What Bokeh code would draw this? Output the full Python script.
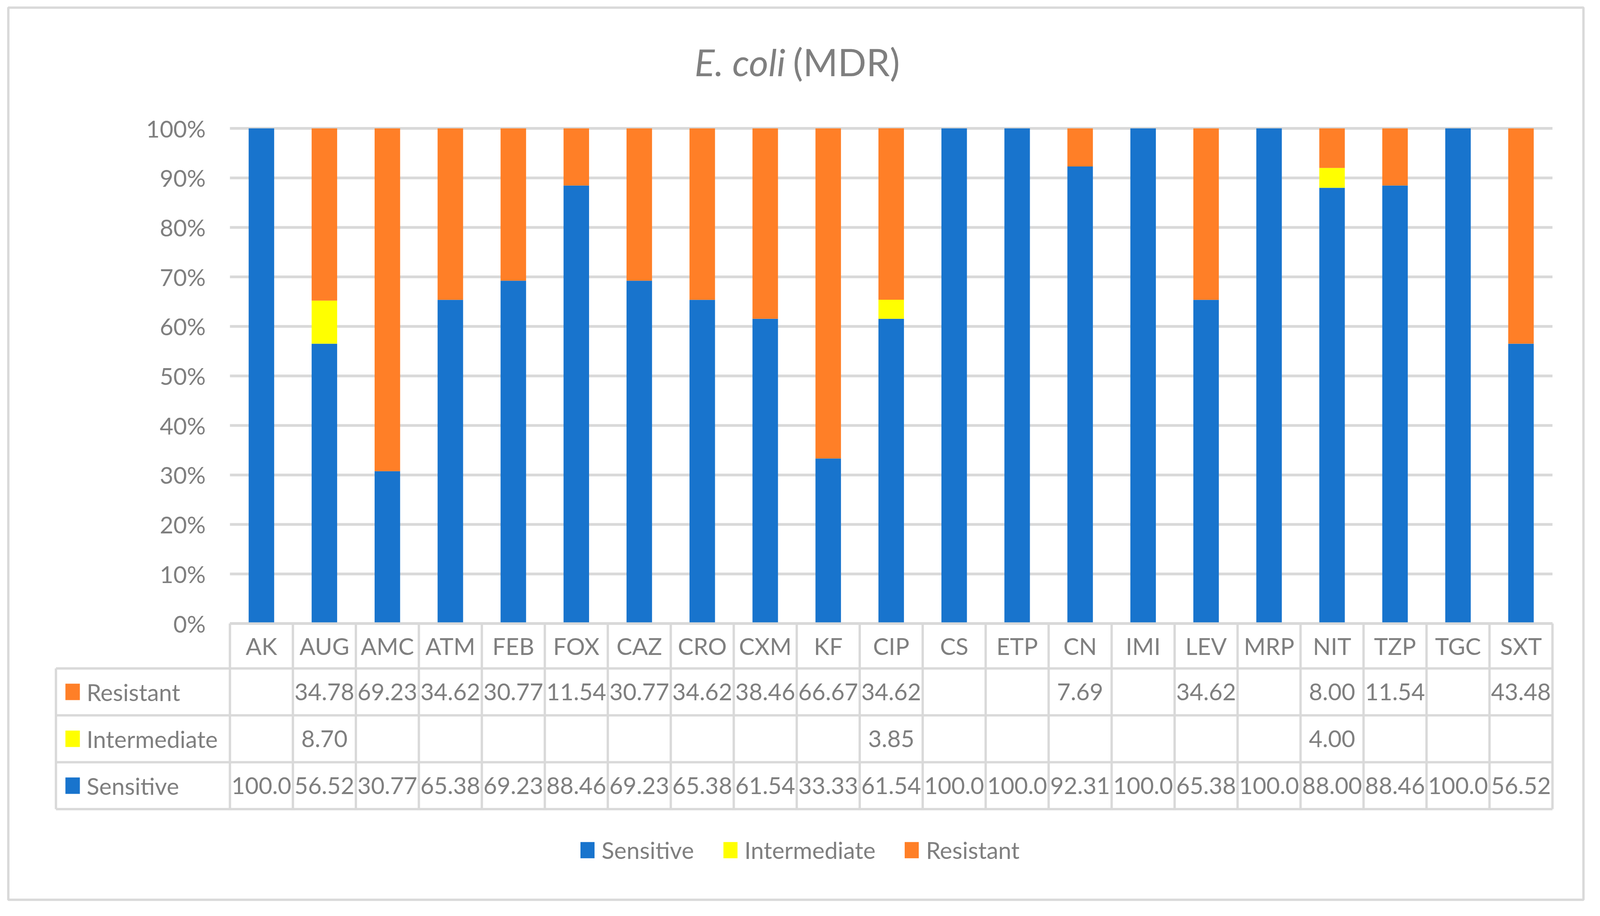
from bokeh.plotting import figure
from bokeh.models import (ColumnDataSource, LinearAxis, FixedTicker, PrintfTickFormatter,
                          Legend, LegendItem, Range1d)
from bokeh.core.properties import value
from bokeh.embed import file_html
from bokeh.resources import INLINE

# ---------------- data ----------------
categories = ["AK", "AUG", "AMC", "ATM", "FEB", "FOX", "CAZ", "CRO", "CXM", "KF", "CIP",
              "CS", "ETP", "CN", "IMI", "LEV", "MRP", "NIT", "TZP", "TGC", "SXT"]
sensitive = [100.0, 56.52, 30.77, 65.38, 69.23, 88.46, 69.23, 65.38, 61.54, 33.33, 61.54,
             100.0, 100.0, 92.31, 100.0, 65.38, 100.0, 88.00, 88.46, 100.0, 56.52]
intermediate = [None, 8.70, None, None, None, None, None, None, None, None, 3.85,
                None, None, None, None, None, None, 4.00, None, None, None]
resistant = [None, 34.78, 69.23, 34.62, 30.77, 11.54, 30.77, 34.62, 38.46, 66.67, 34.62,
             None, None, 7.69, None, 34.62, None, 8.00, 11.54, None, 43.48]
series_names = ["Sensitive", "Intermediate", "Resistant"]
series_colors = ["#1874CD", "#FFFF00", "#FF7F27"]
y_ticks = [0, 10, 20, 30, 40, 50, 60, 70, 80, 90, 100]
title_italic = "E. coli"
title_plain = "(MDR)"

# ---------------- layout ----------------
# geometry is measured in reference pixels; horizontal positions are compressed by KX
# so that the whole chart fits the usable page width
W, H, OFF = 4080, 2328, 8
KX = (W + 2 * OFF) / 4700.0
PLOT_L, PLOT_R, Y0PX, Y100PX = 684, 4569, 1603, 336
n = len(categories)
ux = (PLOT_R - PLOT_L) / n
uy = (Y0PX - Y100PX) / 100.0

def X(px):          # reference x pixel -> data x
    return (px - PLOT_L) / ux

def Y(py):          # reference y pixel -> data y
    return (Y0PX - py) / uy

def sx(px):         # reference x pixel -> canvas x pixel
    return px * KX - OFF

FONT = value("Lato")
TXT = "#7F7F7F"
GRID = "#D9D9D9"
FS = "60px"

p = figure(width=W, height=H,
           x_range=Range1d(X(OFF / KX), X((OFF + W) / KX)),
           y_range=Range1d(Y(OFF + H), Y(OFF)), x_axis_type=None, y_axis_type=None,
           toolbar_location=None, output_backend="svg", min_border=0,
           outline_line_color=None, background_fill_color="white")

# outer chart border
p.quad(left=[X(33)], right=[X(4660)], top=[Y(27)], bottom=[Y(2310)],
       fill_color=None, line_color=GRID, line_width=6)

# gridlines
p.segment(x0=[0] * len(y_ticks), x1=[n] * len(y_ticks), y0=y_ticks, y1=y_ticks,
          line_color=GRID, line_width=7)

# stacked bars
xc = [i + 0.5 for i in range(n)]
src = ColumnDataSource(dict(
    xc=xc,
    Sensitive=[v or 0 for v in sensitive],
    Intermediate=[v or 0 for v in intermediate],
    Resistant=[v or 0 for v in resistant],
))
bars = p.vbar_stack(series_names, x="xc", width=0.405, color=series_colors,
                    line_color=None, source=src)

# y axis, fixed at the plot's left edge
yax = LinearAxis(fixed_location=0, bounds=(0, 100), ticker=FixedTicker(ticks=y_ticks),
                 formatter=PrintfTickFormatter(format="%d%%"))
yax.axis_line_color = None
yax.major_tick_line_color = None
yax.minor_tick_line_color = None
yax.major_tick_in = 0
yax.major_tick_out = 0
yax.major_label_standoff = int(72 * KX)
yax.major_label_text_font = "Lato"
yax.major_label_text_font_size = FS
yax.major_label_text_color = TXT
p.add_layout(yax, "left")

# data table
TBL_L = 173
row_lines = [1718, 1838, 1958, 2078]
p.segment(x0=[0], x1=[n], y0=[0], y1=[0], line_color=GRID, line_width=6)
p.segment(x0=[X(TBL_L)] * 4, x1=[n] * 4, y0=[Y(r) for r in row_lines],
          y1=[Y(r) for r in row_lines], line_color=GRID, line_width=6)
p.segment(x0=list(range(n + 1)), x1=list(range(n + 1)), y0=[0] * (n + 1),
          y1=[Y(2078)] * (n + 1), line_color=GRID, line_width=6)
p.segment(x0=[X(TBL_L)], x1=[X(TBL_L)], y0=[Y(1718)], y1=[Y(2078)],
          line_color=GRID, line_width=6)

p.text(x=xc, y=[Y(1660)] * n, text=categories, text_font=FONT, text_font_size=FS,
       text_color=TXT, text_align="center", text_baseline="middle")

def fmt(v):
    return "" if v is None else f"{v:.2f}"[:5]

row_centers = {"Resistant": 1778, "Intermediate": 1898, "Sensitive": 2018}
series_vals = {"Sensitive": sensitive, "Intermediate": intermediate, "Resistant": resistant}
for name, color in zip(series_names, series_colors):
    yc = Y(row_centers[name])
    p.rect(x=[X(222)], y=[yc], width=round(42 * KX), height=42, width_units="screen",
           height_units="screen", fill_color=color, line_color=None)
    p.text(x=[X(263)], y=[yc], text=[name], text_font=FONT, text_font_size=FS,
           text_color=TXT, text_align="left", text_baseline="middle")
    p.text(x=xc, y=[yc] * n, text=[fmt(v) for v in series_vals[name]], text_font=FONT,
           text_font_size=FS, text_color=TXT, text_align="center", text_baseline="middle")

# title
p.text(x=[X(2316)], y=[Y(165)], text=[title_italic], text_font=FONT, text_font_size="96px",
       text_font_style="italic", text_color=TXT, text_align="right", text_baseline="middle")
p.text(x=[X(2338)], y=[Y(165)], text=[title_plain], text_font=FONT, text_font_size="96px",
       text_color=TXT, text_align="left", text_baseline="middle")

# legend
gw = round(52 * KX)
legend = Legend(items=[LegendItem(label=nm, renderers=[r]) for nm, r in zip(series_names, bars)],
                orientation="horizontal", location=(round(sx(1709)), 117),
                glyph_width=gw, glyph_height=52,
                label_standoff=round(21 * KX - 0.1 * gw), spacing=round(85 * KX - 0.1 * gw),
                padding=0, margin=0, border_line_color=None,
                background_fill_alpha=0, label_text_font="Lato", label_text_font_size=FS,
                label_text_color=TXT)
p.add_layout(legend)

open("out.html", "w").write(file_html(p, INLINE))
